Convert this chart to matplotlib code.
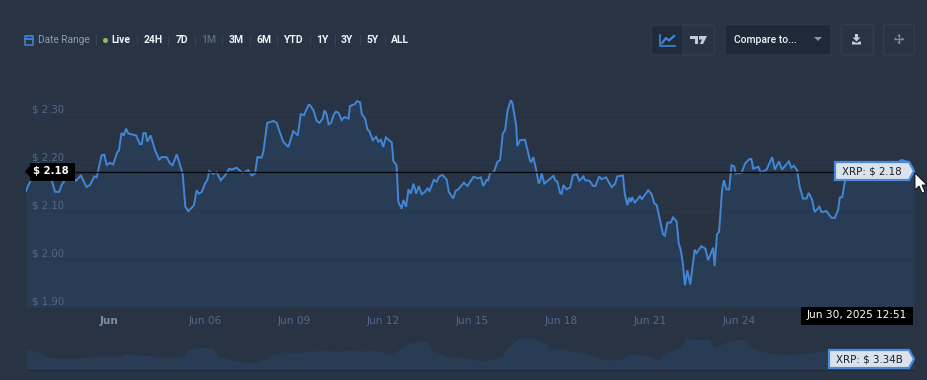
import matplotlib
matplotlib.use("Agg")
import matplotlib.pyplot as plt
from matplotlib.colors import LinearSegmentedColormap
from matplotlib.patches import Rectangle, FancyBboxPatch, Polygon

# price, days since the left edge of the chart
price_days = [0.00, 0.08, 0.16, 0.25, 0.42, 0.56, 0.70, 0.87, 0.98, 1.12, 1.20, 1.31, 1.48, 1.69, 1.85, 2.04, 2.16, 2.30, 2.38, 2.55,
              2.64, 2.72, 2.81, 2.94, 3.08, 3.13, 3.22, 3.30, 3.37, 3.45, 3.71, 3.84, 3.90, 3.96, 4.03, 4.09, 4.20, 4.35, 4.49, 4.57,
              4.74, 4.85, 4.94, 5.08, 5.28, 5.37, 5.47, 5.62, 5.66, 5.75, 5.83, 5.93, 6.03, 6.11, 6.18, 6.31, 6.43, 6.56, 6.71, 6.85,
              6.93, 7.10, 7.30, 7.49, 7.61, 7.72, 7.80, 7.94, 8.00, 8.13, 8.34, 8.45, 8.54, 8.67, 8.84, 9.01, 9.16, 9.26, 9.37, 9.52,
              9.57, 9.69, 9.80, 9.89, 10.00, 10.06, 10.13, 10.20, 10.28, 10.38, 10.45, 10.53, 10.64, 10.73, 10.87, 10.92, 11.09, 11.15, 11.26, 11.32,
              11.43, 11.51, 11.57, 11.69, 11.80, 11.88, 11.96, 12.04, 12.13, 12.33, 12.38, 12.49, 12.55, 12.66, 12.72, 12.81, 12.89, 12.97, 13.06, 13.15,
              13.24, 13.34, 13.45, 13.53, 13.60, 13.75, 13.84, 13.93, 14.04, 14.18, 14.25, 14.40, 14.48, 14.57, 14.76, 14.88, 15.08, 15.25, 15.33, 15.41,
              15.53, 15.58, 15.64, 15.77, 15.89, 15.98, 16.07, 16.15, 16.23, 16.34, 16.39, 16.52, 16.56, 16.65, 16.82, 16.99, 17.03, 17.10, 17.21, 17.28,
              17.33, 17.38, 17.47, 17.78, 17.84, 17.91, 18.00, 18.06, 18.11, 18.22, 18.34, 18.43, 18.56, 18.65, 18.79, 18.84, 18.99, 19.12, 19.19, 19.32,
              19.40, 19.55, 19.74, 19.85, 19.93, 20.02, 20.12, 20.18, 20.27, 20.33, 20.38, 20.43, 20.52, 20.69, 20.76, 20.97, 21.08, 21.17, 21.26, 21.47,
              21.53, 21.62, 21.73, 21.81, 21.93, 22.00, 22.07, 22.14, 22.21, 22.29, 22.39, 22.54, 22.60, 22.76, 22.90, 22.99, 23.16, 23.21, 23.29, 23.36,
              23.46, 23.52, 23.61, 23.70, 23.78, 23.87, 23.92, 24.11, 24.25, 24.39, 24.45, 24.51, 24.68, 24.77, 24.96, 25.15, 25.24, 25.38, 25.48, 25.71,
              25.80, 25.88, 25.99, 26.08, 26.19, 26.31, 26.38, 26.50, 26.58, 26.74, 26.81, 26.98, 27.15, 27.26, 27.37, 27.43, 27.51, 27.62, 27.77, 28.05,
              28.50, 28.94, 29.28, 29.51, 29.73, 29.93]
price = [2.140, 2.153, 2.162, 2.180, 2.199, 2.184, 2.169, 2.162, 2.139, 2.139, 2.153, 2.163, 2.173, 2.162, 2.173, 2.149, 2.153, 2.171, 2.169, 2.215,
         2.216, 2.194, 2.199, 2.196, 2.222, 2.224, 2.261, 2.256, 2.270, 2.260, 2.256, 2.238, 2.238, 2.261, 2.261, 2.243, 2.256, 2.225, 2.206, 2.211,
         2.211, 2.198, 2.194, 2.217, 2.177, 2.108, 2.099, 2.108, 2.111, 2.142, 2.135, 2.139, 2.156, 2.163, 2.182, 2.176, 2.180, 2.163, 2.173, 2.187,
         2.185, 2.189, 2.178, 2.184, 2.173, 2.177, 2.211, 2.210, 2.222, 2.282, 2.286, 2.282, 2.265, 2.243, 2.232, 2.265, 2.256, 2.300, 2.298, 2.319,
         2.319, 2.308, 2.286, 2.282, 2.291, 2.308, 2.300, 2.279, 2.282, 2.300, 2.305, 2.303, 2.288, 2.294, 2.291, 2.317, 2.321, 2.327, 2.325, 2.300,
         2.291, 2.268, 2.265, 2.246, 2.253, 2.243, 2.247, 2.232, 2.252, 2.241, 2.203, 2.194, 2.118, 2.104, 2.122, 2.108, 2.144, 2.135, 2.156, 2.135,
         2.151, 2.134, 2.139, 2.146, 2.141, 2.164, 2.160, 2.171, 2.174, 2.164, 2.139, 2.125, 2.141, 2.144, 2.158, 2.151, 2.170, 2.167, 2.169, 2.151,
         2.164, 2.163, 2.178, 2.180, 2.201, 2.205, 2.260, 2.267, 2.308, 2.329, 2.324, 2.277, 2.234, 2.246, 2.247, 2.203, 2.201, 2.211, 2.180, 2.156,
         2.162, 2.178, 2.156, 2.172, 2.163, 2.160, 2.137, 2.135, 2.153, 2.144, 2.148, 2.173, 2.176, 2.162, 2.171, 2.163, 2.162, 2.151, 2.151, 2.171,
         2.165, 2.169, 2.149, 2.155, 2.171, 2.172, 2.173, 2.135, 2.111, 2.127, 2.118, 2.128, 2.116, 2.130, 2.124, 2.142, 2.135, 2.116, 2.111, 2.051,
         2.048, 2.075, 2.075, 2.086, 2.077, 2.032, 2.018, 1.990, 1.945, 1.976, 1.947, 2.019, 2.012, 2.026, 2.021, 1.997, 2.023, 1.985, 2.051, 2.056,
         2.142, 2.163, 2.144, 2.144, 2.194, 2.192, 2.177, 2.178, 2.199, 2.207, 2.207, 2.187, 2.191, 2.179, 2.185, 2.211, 2.185, 2.202, 2.185, 2.202,
         2.189, 2.193, 2.184, 2.149, 2.125, 2.125, 2.137, 2.122, 2.097, 2.108, 2.097, 2.099, 2.085, 2.085, 2.101, 2.127, 2.128, 2.167, 2.194, 2.194,
         2.192, 2.191, 2.196, 2.205, 2.201, 2.184]

# navigator volume in billions
vol_days = [0.00, 0.19, 0.25, 0.53, 0.70, 1.03, 1.76, 1.88, 2.49, 3.11, 3.34, 3.62, 4.07, 4.40, 5.25, 5.47, 5.75, 6.31, 6.48, 6.99,
            7.44, 7.78, 7.83, 8.11, 8.22, 8.67, 9.12, 9.57, 10.13, 10.58, 10.92, 11.37, 11.82, 12.38, 12.61, 12.89, 13.34, 13.54, 13.64, 14.18,
            14.76, 15.33, 15.66, 16.00, 16.22, 16.62, 17.07, 17.29, 17.52, 17.66, 18.19, 18.36, 18.81, 19.43, 19.71, 20.04, 20.38, 20.83, 21.17, 21.34,
            21.62, 22.07, 22.24, 22.52, 23.03, 23.19, 23.64, 24.09, 24.26, 24.54, 24.99, 25.66, 26.22, 26.84, 27.12, 28.25, 29.37, 29.93]
volume = [6.38, 6.08, 5.57, 5.37, 3.85, 3.44, 3.44, 3.75, 4.26, 4.05, 4.96, 4.56, 4.56, 3.95, 3.95, 6.08, 6.69, 6.69, 4.05, 3.04,
          2.33, 2.23, 2.84, 3.24, 4.56, 5.57, 5.27, 5.67, 5.98, 5.57, 5.98, 5.78, 5.98, 4.56, 6.59, 8.11, 8.92, 8.61, 6.28, 4.05,
          3.85, 2.74, 3.24, 3.85, 6.59, 9.83, 9.83, 8.61, 8.11, 6.38, 6.38, 5.57, 5.37, 3.24, 3.04, 3.24, 4.76, 4.56, 3.55, 3.04,
          5.37, 6.79, 9.63, 9.32, 9.32, 6.79, 8.61, 9.42, 8.61, 6.38, 5.27, 4.56, 5.07, 5.88, 6.08, 6.08, 4.56, 3.24]

y_ticks = [1.90, 2.00, 2.10, 2.20, 2.30]
y_labels = ["$ 1.90", "$ 2.00", "$ 2.10", "$ 2.20", "$ 2.30"]
x_ticks = [2.80, 6.03, 9.03, 12.03, 15.03, 18.03, 21.03, 24.03]
x_labels = ["Jun", "Jun 06", "Jun 09", "Jun 12", "Jun 15", "Jun 18", "Jun 21", "Jun 24"]
range_names = ["24H", "7D", "1M", "3M", "6M", "YTD", "1Y", "3Y", "5Y", "ALL"]
range_pos = [153, 182, 209, 236, 264, 293, 322, 347, 373, 400]
range_seps = [96, 137, 168, 195, 222, 250, 277, 310, 335, 360, 385]
current = 2.18

BG = "#283444"
FILL = "#293c55"
LINE = "#4286d6"
TICK = "#54698a"

W, H = 928.0, 380.0
fig = plt.figure(figsize=(9.28, 3.80), dpi=100, facecolor=BG)


def px_axes(x0, y0, x1, y1):
    return fig.add_axes([x0 / W, 1 - y1 / H, (x1 - x0) / W, (y1 - y0) / H])


# main chart, background fades from the page colour to a darker one
ax = px_axes(26, 66, 914, 307)
ax.set_facecolor(BG)
shade = LinearSegmentedColormap.from_list("shade", ["#28323f", "#293444", BG])
ax.imshow([[0.0], [0.35], [0.7], [1.0]], cmap=shade, extent=(0, 1, 0, 1), transform=ax.transAxes,
          aspect="auto", origin="lower", interpolation="bilinear", zorder=0)
ax.fill_between(price_days, price, 1.9, color=FILL, lw=0, zorder=1)
ax.plot(price_days, price, color=LINE, lw=1.4, solid_joinstyle="miter", zorder=3)
ax.axhline(current, color="#05080c", lw=1.0, zorder=5)
ax.set_xlim(0, 29.93)
ax.set_ylim(1.9, 2.4)
ax.set_yticks(y_ticks)
ax.set_yticklabels(y_labels)
ax.set_xticks(x_ticks)
ax.set_xticklabels(x_labels)
ax.grid(axis="y", color="#2c3849", lw=1, zorder=2)
ax.tick_params(axis="y", length=0, pad=-4.5, labelcolor=TICK, labelsize=7.3)
ax.tick_params(axis="x", length=0, pad=6.5, labelcolor=TICK, labelsize=7.6)
for t in ax.get_yticklabels():
    t.set_ha("left")
    t.set_va("bottom")
    t.set_zorder(6)
ax.get_xticklabels()[0].set_fontweight("bold")
ax.get_xticklabels()[0].set_color("#7d8fa8")
for s in ax.spines.values():
    s.set_visible(False)

# navigator
nav = px_axes(26, 328, 914, 370)
nav.set_facecolor(BG)
nav.fill_between(vol_days, volume, 0, color=FILL, lw=0)
nav.set_xlim(0, 29.93)
nav.set_ylim(0, 12.77)
nav.set_xticks([])
nav.set_yticks([])
for s in nav.spines.values():
    s.set_visible(False)
nav.spines["bottom"].set_visible(True)
nav.spines["bottom"].set_color("#1e2a39")

# toolbar and labels on top, in pixels
ui = fig.add_axes([0, 0, 1, 1], zorder=10)
ui.set_xlim(0, W)
ui.set_ylim(H, 0)
ui.axis("off")


def box(x0, y0, x1, y1, fc, ec="none", lw=1, r=2):
    ui.add_patch(FancyBboxPatch((x0 + r, y0 + r), x1 - x0 - 2 * r, y1 - y0 - 2 * r,
                                boxstyle="round,pad=%g,rounding_size=%g" % (r, r), fc=fc, ec=ec, lw=lw))


# range selector
ui.add_patch(Rectangle((25, 36), 8, 9, fc="none", ec="#3f7fc9", lw=1.2))
ui.plot([25, 33], [38.5, 38.5], color="#3f7fc9", lw=1.5)
ui.plot([27, 27], [34.5, 36], color="#3f7fc9", lw=1)
ui.plot([31, 31], [34.5, 36], color="#3f7fc9", lw=1)
ui.text(38.5, 40.3, "Date Range", color="#8c9bb0", fontsize=7.3, family="Roboto", va="center")
ui.plot([105.5], [39.5], "o", ms=3.6, color="#8fbf5a", mew=0)
ui.text(121, 40, "Live", color="#eef2f7", fontsize=7.5, family="Roboto", weight="bold", va="center", ha="center")
for x in range_seps:
    ui.plot([x, x], [35, 45], color="#344255", lw=0.8)
for name, x in zip(range_names, range_pos):
    c = "#566578" if name == "1M" else "#eef2f7"
    ui.text(x, 40, name, color=c, fontsize=7.5, family="Roboto", weight="bold", va="center", ha="center")

# chart type buttons
box(651, 25, 714.5, 55, "none", ec="#303e50")
box(651, 25, 683, 55, "#212c3b", ec="#2c3948")
ui.plot([660, 660, 675], [35, 45.5, 45.5], color="#3f85d4", lw=1.2)
ui.plot([662, 666, 669, 674], [43, 38, 40.5, 36], color="#3f85d4", lw=1.6)
ui.add_patch(Polygon([(690, 36), (698, 36), (698, 44), (695, 44), (695, 39), (690, 39)], fc="#c3cbd5", ec="none"))
ui.add_patch(Polygon([(699, 36), (707, 36), (703, 44), (700, 44), (702, 39.5), (699, 39.5)], fc="#c3cbd5", ec="none"))

# compare box
box(725, 24.5, 831, 55, "#1f2a38", ec="#2c3948")
ui.text(734, 40, "Compare to...", color="#f0f3f7", fontsize=7.5, family="Roboto", weight="medium", va="center")
ui.add_patch(Polygon([(814, 37), (822, 37), (818, 41)], fc="#8a94a3", ec="none"))

# download and move buttons
box(841, 24.5, 873.5, 55, "none", ec="#303e50")
ui.add_patch(Polygon([(855, 34), (858, 34), (858, 37.5), (860.5, 37.5), (856.5, 41.5), (852.5, 37.5), (855, 37.5)], fc="#c3cbd5", ec="none"))
ui.add_patch(Polygon([(852, 41.5), (853.5, 41.5), (856.5, 43), (859.5, 41.5), (861, 41.5), (861, 44.5), (852, 44.5)], fc="#c3cbd5", ec="none"))
box(883.5, 24.5, 914.5, 55, "none", ec="#303e50")
ui.plot([895, 903], [39, 39], color="#7f8da0", lw=0.9)
ui.plot([899, 899], [35, 43], color="#7f8da0", lw=0.9)
for tri in [[(899, 34), (897.2, 36.2), (900.8, 36.2)], [(899, 44), (897.2, 41.8), (900.8, 41.8)],
            [(894, 39), (896.2, 37.2), (896.2, 40.8)], [(904, 39), (901.8, 37.2), (901.8, 40.8)]]:
    ui.add_patch(Polygon(tri, fc="#7f8da0", ec="none"))

# crosshair price label
ui.add_patch(Polygon([(25, 171.5), (30, 166), (30, 163), (75, 163), (75, 181), (30, 181), (30, 177)], fc="#000000", ec="none"))
ui.text(51, 171.5, "$ 2.18", color="#ffffff", fontsize=7.3, va="center", ha="center", weight="bold")

# date label
ui.add_patch(Rectangle((801, 307), 112, 18, fc="#000000", ec="none"))
ui.text(857, 315.5, "Jun 30, 2025 12:51", color="#ffffff", fontsize=7.6, va="center", ha="center")


def flag(x0, y0, y1, text, tx):
    mid = (y0 + y1) / 2.0
    ui.add_patch(Polygon([(x0, y0), (909, y0), (914, mid), (909, y1), (x0, y1)], fc="#dbe2ec", ec="#4a8ad8", lw=1.6))
    ui.text(tx, mid, text, color="#1a2026", fontsize=7.4, va="center", ha="center")


flag(835, 162, 180, "XRP: $ 2.18", 872)
flag(829, 350, 368, "XRP: $ 3.34B", 869)

# mouse cursor
ui.add_patch(Polygon([(915, 173), (915, 190), (919, 186), (922, 193), (925, 192), (922, 185), (927, 185)],
                     fc="#ffffff", ec="#10151b", lw=0.7))

fig.savefig("out.png", dpi=100, facecolor=BG)
